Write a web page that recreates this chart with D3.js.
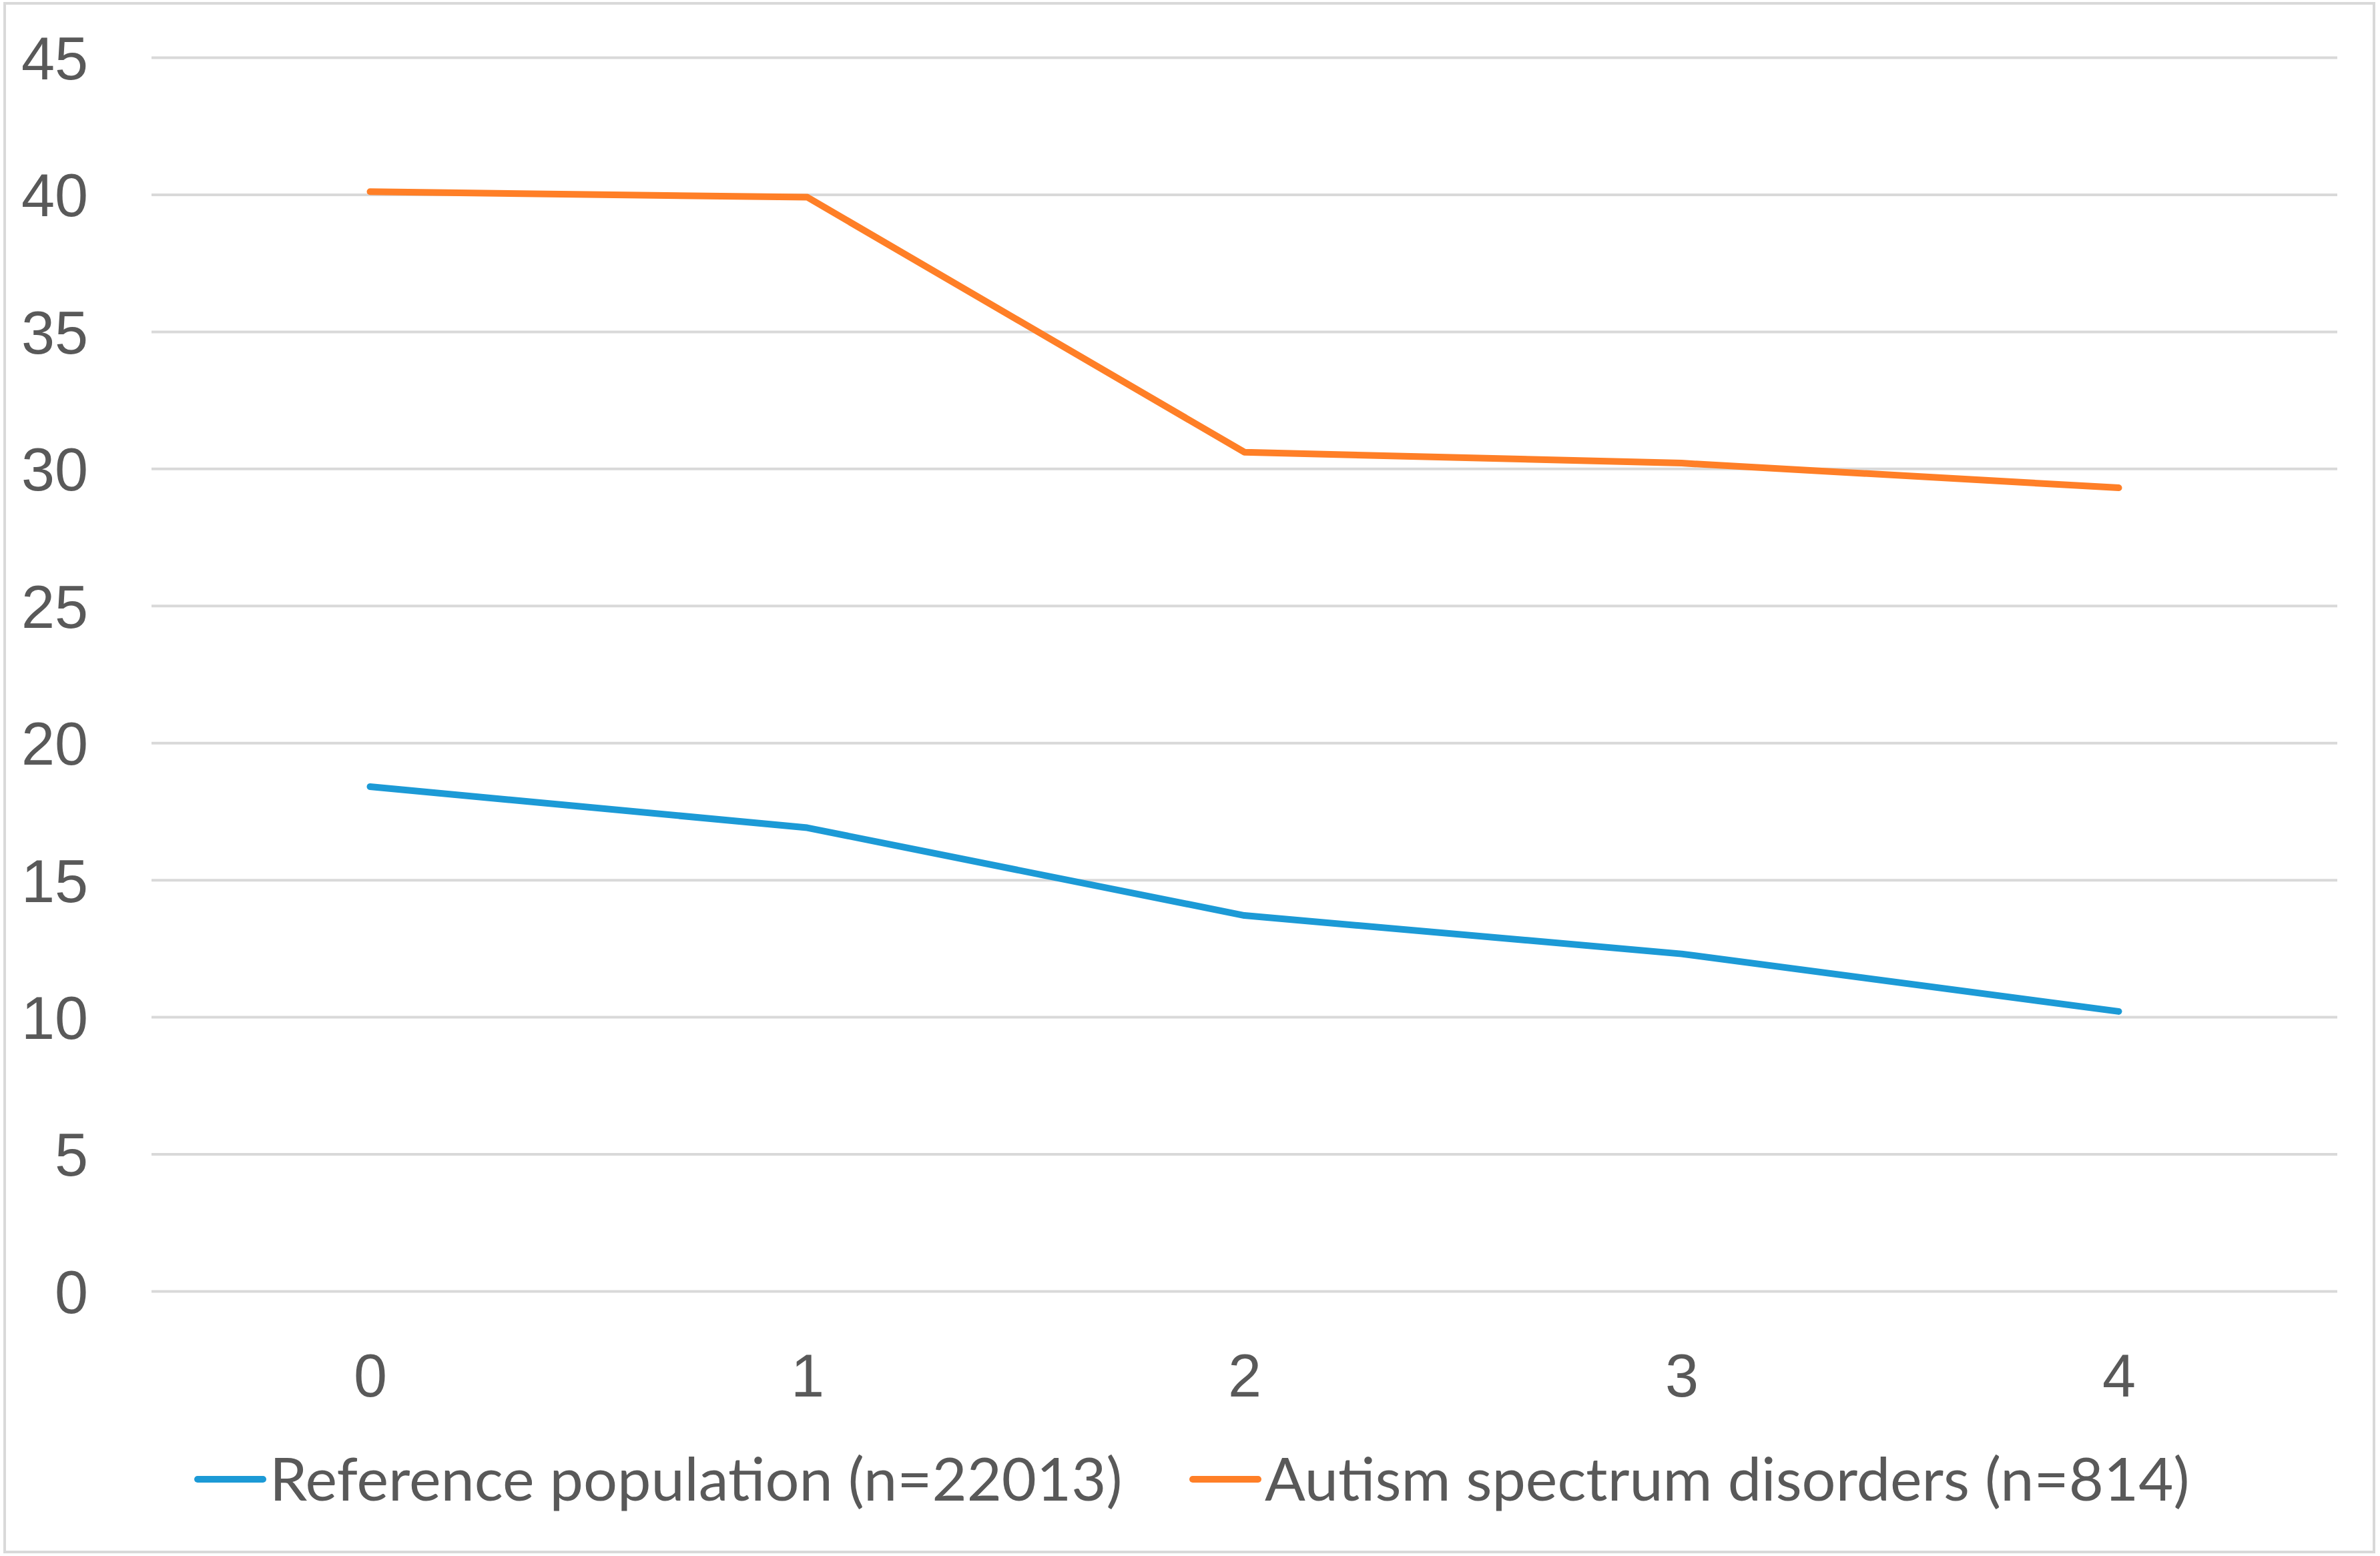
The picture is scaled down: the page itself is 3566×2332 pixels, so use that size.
<!DOCTYPE html>
<html>
<head>
<meta charset="utf-8">
<script src="https://cdn.jsdelivr.net/npm/d3@7"></script>
<style>
  html, body { margin: 0; padding: 0; background: #fff; }
  svg { display: block; }
</style>
</head>
<body>
<div class="chart"></div>
<script>
// chart values
const categories = ['0', '1', '2', '3', '4'];
const yTicks = [0, 5, 10, 15, 20, 25, 30, 35, 40, 45];
const seriesNames = ['Reference population (n=22013)', 'Autism spectrum disorders (n=814)'];
const referenceValues = [18.4, 16.9, 13.7, 12.3, 10.2];
const autismValues = [40.1, 39.9, 30.6, 30.2, 29.3];

const w = 3566;
const h = 2332;
const plotLeft = 227;
const plotRight = 3502;
const plotTop = 86;
const plotBottom = 1935;
const fontSize = 90;
const textColor = '#595959';
const colors = ['#1c9ad6', '#ff7f27'];

const svg = d3.select('.chart')
    .append('svg')
    .attr('width', w)
    .attr('height', h)
    .style('font-family', 'Lato, "Noto Sans", sans-serif');

// outer chart border
svg.append('rect')
    .attr('x', 7)
    .attr('y', 5)
    .attr('width', 3550)
    .attr('height', 2321)
    .attr('fill', '#fff')
    .attr('stroke', '#d9d9d9')
    .attr('stroke-width', 4);

const xScale = d3.scalePoint()
    .domain(categories)
    .range([plotLeft, plotRight])
    .padding(0.5);

const yScale = d3.scaleLinear()
    .domain([0, 45])
    .range([plotBottom, plotTop]);

const yAxis = d3.axisLeft(yScale)
    .tickValues(yTicks)
    .tickSize(-(plotRight - plotLeft))
    .tickPadding(95)
    .tickFormat(d3.format('d'));

const yG = svg.append('g')
    .attr('transform', 'translate(' + plotLeft + ',0)')
    .call(yAxis);

yG.select('.domain').remove();
yG.selectAll('line')
    .attr('stroke', '#d9d9d9')
    .attr('stroke-width', 4);
yG.selectAll('text')
    .attr('fill', textColor)
    .style('font-size', fontSize + 'px')
    .attr('dy', '0.36em');

const xAxis = d3.axisBottom(xScale)
    .tickSize(0)
    .tickPadding(94);

const xG = svg.append('g')
    .attr('transform', 'translate(0,' + plotBottom + ')')
    .call(xAxis);

xG.select('.domain').remove();
xG.selectAll('text')
    .attr('fill', textColor)
    .style('font-size', fontSize + 'px');

const line = d3.line()
    .x((d, i) => xScale(categories[i]))
    .y((d) => yScale(d));

[referenceValues, autismValues].forEach((values, k) => {
    svg.append('path')
        .datum(values)
        .attr('fill', 'none')
        .attr('stroke', colors[k])
        .attr('stroke-width', 10)
        .attr('stroke-linejoin', 'round')
        .attr('stroke-linecap', 'round')
        .attr('d', line);
});

// legend
const legendY = 2217;
const legendX = [296, 1787];

seriesNames.forEach((name, k) => {
    const g = svg.append('g')
        .attr('transform', 'translate(' + legendX[k] + ',' + legendY + ')');

    g.append('line')
        .attr('x1', 0)
        .attr('x2', 98)
        .attr('stroke', colors[k])
        .attr('stroke-width', 10)
        .attr('stroke-linecap', 'round');

    g.append('text')
        .attr('x', 108)
        .attr('dy', '0.36em')
        .attr('fill', textColor)
        .style('font-size', fontSize + 'px')
        .text(name);
});
</script>
</body>
</html>
